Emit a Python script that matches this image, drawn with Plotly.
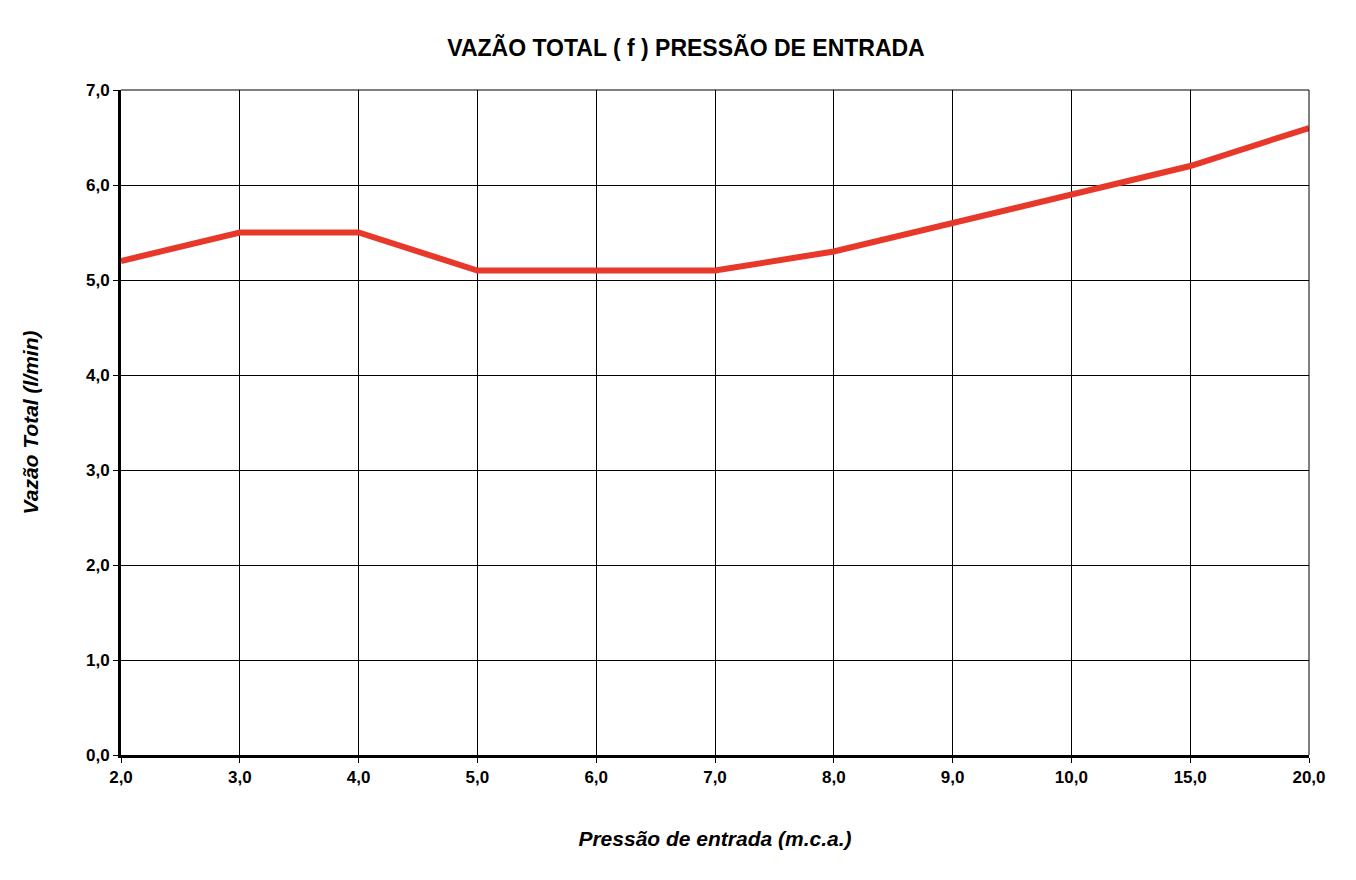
import plotly.graph_objects as go

# Pressão de entrada (m.c.a.) - shown as equally spaced categories
pressao = ["2,0", "3,0", "4,0", "5,0", "6,0", "7,0", "8,0", "9,0", "10,0", "15,0", "20,0"]
vazao = [5.2, 5.5, 5.5, 5.1, 5.1, 5.1, 5.3, 5.6, 5.9, 6.2, 6.6]
y_ticks = [0, 1, 2, 3, 4, 5, 6, 7]
y_labels = ["0,0", "1,0", "2,0", "3,0", "4,0", "5,0", "6,0", "7,0"]

FONT = "Liberation Sans, Arial, sans-serif"

fig = go.Figure()
fig.add_trace(go.Scatter(
    x=list(range(len(pressao))),
    y=vazao,
    mode="lines",
    line=dict(color="#e8382a", width=6),
    hoverinfo="x+y",
))

fig.update_layout(
    width=1356, height=880,
    margin=dict(l=113, r=55, t=82, b=133),
    plot_bgcolor="white",
    paper_bgcolor="white",
    showlegend=False,
    title=dict(text="<b>VAZÃO TOTAL ( f ) PRESSÃO DE ENTRADA</b>",
               x=0.5, xanchor="center", y=0.955, yanchor="middle",
               font=dict(family=FONT, size=23, color="black")),
    xaxis=dict(
        tickmode="array", tickvals=list(range(len(pressao))), ticktext=pressao,
        range=[0, len(pressao) - 1],
        showgrid=True, gridcolor="black", gridwidth=1,
        showline=True, linecolor="black", linewidth=3,
        ticks="outside", ticklen=5, tickcolor="black",
        tickfont=dict(family=FONT, size=17, color="black", weight="bold"),
        title=dict(text="<b><i>Pressão de entrada (m.c.a.)</i></b>", standoff=45,
                   font=dict(family=FONT, size=21, color="black")),
        zeroline=False, mirror=False,
    ),
    yaxis=dict(
        tickmode="array", tickvals=y_ticks, ticktext=y_labels,
        range=[0, 7],
        showgrid=True, gridcolor="black", gridwidth=1,
        showline=True, linecolor="black", linewidth=3,
        ticks="outside", ticklen=5, tickcolor="black",
        tickfont=dict(family=FONT, size=17, color="black", weight="bold"),
        title=dict(text="<b><i>Vazão Total (l/min)</i></b>", standoff=42,
                   font=dict(family=FONT, size=21, color="black")),
        zeroline=False,
    ),
)

# right and top border lines of plot frame
fig.add_shape(type="line", xref="paper", yref="paper", x0=1, x1=1, y0=0, y1=1,
              line=dict(color="black", width=1))
fig.add_shape(type="line", xref="paper", yref="paper", x0=0, x1=1, y0=1, y1=1,
              line=dict(color="black", width=1))

fig.write_html("out.html")
